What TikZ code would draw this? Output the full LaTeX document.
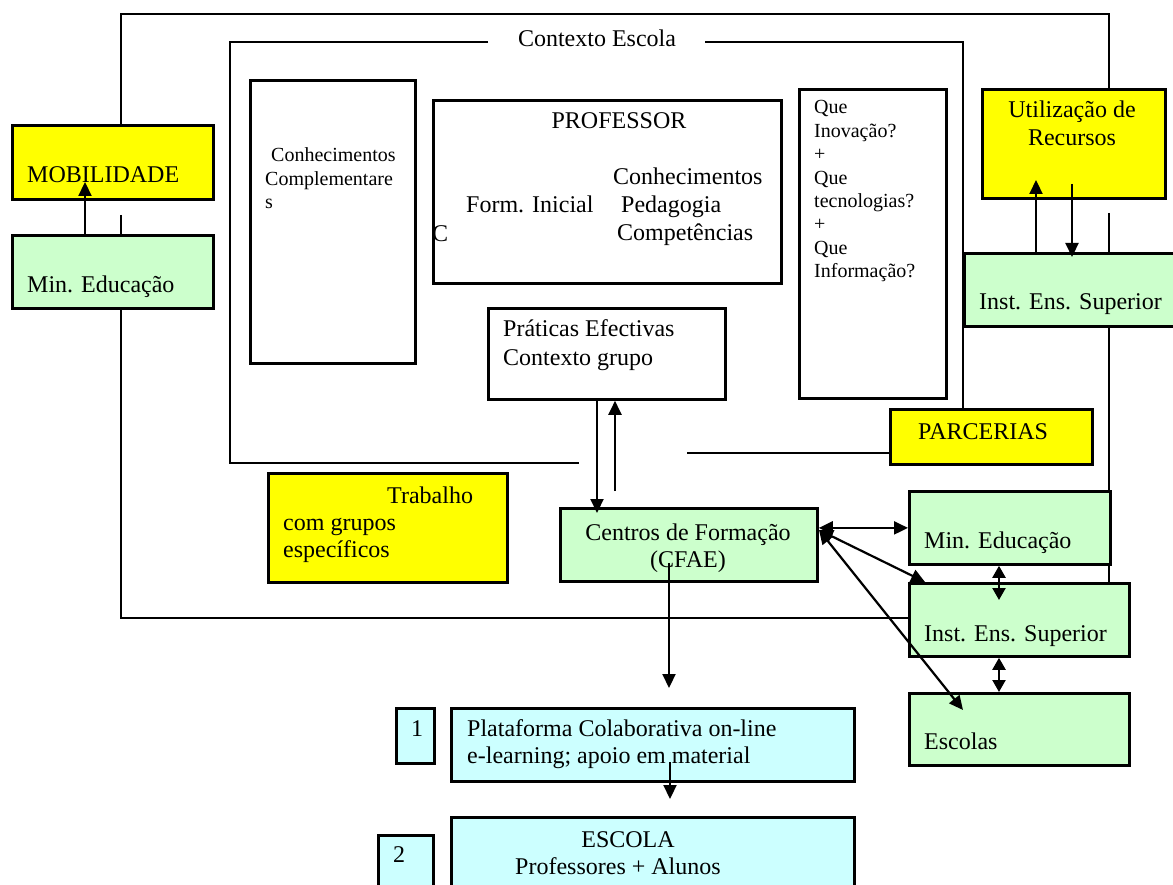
\documentclass[tikz,border=0pt]{standalone}
\usepackage{fontspec}
\setmainfont{Liberation Serif}
\usetikzlibrary{arrows.meta}
\definecolor{yel}{HTML}{FFFF00}
\definecolor{grn}{HTML}{CCFFCC}
\definecolor{cyn}{HTML}{CCFFFF}
\begin{document}
\begin{tikzpicture}[x=1pt,y=-1pt,
  box/.style={draw, line width=2.8pt, inner sep=0pt, anchor=north west},
  big/.style={font=\fontsize{24}{27}\selectfont, inner sep=0pt},
  sm/.style={font=\fontsize{20}{23}\selectfont, inner sep=0pt},
  frame/.style={line width=2.7pt},
  thin/.style={line width=2pt},
  arr/.style={line width=2.2pt, -{Triangle[length=14pt,width=13pt]}},
  dbl/.style={line width=2.2pt, {Triangle[length=14pt,width=13pt]}-{Triangle[length=14pt,width=13pt]}},
  sdbl/.style={line width=2.2pt, {Triangle[length=12pt,width=13pt]}-{Triangle[length=12pt,width=13pt]}}]
\useasboundingbox (0,0) rectangle (1173,885);
\clip (0,0) rectangle (1173,885);
\fill[white] (0,0) rectangle (1173,885);

% frames
\draw[frame] (121,124) -- (121,14) -- (1109,14) -- (1109,88);
\draw[frame] (121,215) -- (121,234);
\draw[frame] (121,307) -- (121,618) -- (908,618);
\draw[thin] (1109,213) -- (1109,252);
\draw[thin] (1109,325) -- (1109,582);
\draw[frame] (488,42) -- (230,42) -- (230,463) -- (579,463);
\draw[frame] (705,42) -- (963,42) -- (963,408);
\draw[thin] (687,453) -- (889,453);
\node[big, anchor=base] (ctx) at (597,47) {Contexto Escola};

% boxes
\node[box, fill=yel, minimum width=201pt, minimum height=74pt] (mob) at (11,124) {};
\node[box, fill=grn, minimum width=201pt, minimum height=73pt] (minL) at (11,234) {};
\node[box, fill=white, minimum width=165pt, minimum height=283pt] (conh) at (249,79) {};
\node[box, fill=white, minimum width=348pt, minimum height=183pt] (prof) at (432,99) {};
\node[box, fill=white, minimum width=147pt, minimum height=309pt] (que) at (798,88) {};
\node[box, fill=yel, minimum width=183pt, minimum height=109pt] (util) at (981,88) {};
\node[box, fill=grn, minimum width=230pt, minimum height=73pt] (instT) at (963,252) {};
\node[box, fill=white, minimum width=237pt, minimum height=91pt] (prat) at (487,307) {};
\node[box, fill=yel, minimum width=202pt, minimum height=55pt] (parc) at (889,408) {};
\node[box, fill=yel, minimum width=239pt, minimum height=109pt] (trab) at (267,472) {};
\node[box, fill=grn, minimum width=257pt, minimum height=73pt] (cent) at (559,507) {};
\node[box, fill=grn, minimum width=201pt, minimum height=73pt] (minR) at (908,490) {};
\node[box, fill=grn, minimum width=220pt, minimum height=73pt] (instB) at (908,582) {};
\node[box, fill=grn, minimum width=220pt, minimum height=72pt] (esc) at (908,692) {};
\node[box, fill=cyn, minimum width=403pt, minimum height=73pt] (plat) at (450,707) {};
\node[box, fill=cyn, minimum width=38pt, minimum height=55pt] (one) at (395,707) {};
\node[box, fill=cyn, minimum width=403pt, minimum height=90pt] (escola) at (450,816) {};
\node[box, fill=cyn, minimum width=55pt, minimum height=70pt] (two) at (377,834) {};

% texts
\node[big, anchor=base west] (mobT) at (27,183) {MOBILIDADE};
\node[big, anchor=base west] (minLT) at (27,293) {Min. Educação};
\node[sm, anchor=base west] (conhT1) at (271,162) {Conhecimentos};
\node[sm, anchor=base west] (conhT2) at (265,186) {Complementare};
\node[sm, anchor=base west] (conhT3) at (265,209) {s};
\node[big, anchor=base] (profT) at (619,129) {PROFESSOR};
\node[big, anchor=base west] (formT) at (466,213) {Form. Inicial};
\node[big, anchor=base west] (pcT1) at (613,185) {Conhecimentos};
\node[big, anchor=base west] (pcT2) at (621,213) {Pedagogia};
\node[big, anchor=base west] (pcT3) at (617,241) {Competências};
\node[big, anchor=base west] (cT) at (432,242) {C};
\node[sm, anchor=base west] (q1) at (814,114) {Que};
\node[sm, anchor=base west] (q2) at (814,137.4) {Inovação?};
\node[sm, anchor=base west] (q3) at (814,160.8) {+};
\node[sm, anchor=base west] (q4) at (814,184.2) {Que};
\node[sm, anchor=base west] (q5) at (814,207.6) {tecnologias?};
\node[sm, anchor=base west] (q6) at (814,231) {+};
\node[sm, anchor=base west] (q7) at (814,254.4) {Que};
\node[sm, anchor=base west] (q8) at (814,277.8) {Informação?};
\node[big, anchor=base] (utilT1) at (1072,118) {Utilização de};
\node[big, anchor=base] (utilT2) at (1072,146) {Recursos};
\node[big, anchor=base west] (instTT) at (979,310) {Inst. Ens. Superior};
\node[big, anchor=base west] (pratT1) at (503,337) {Práticas Efectivas};
\node[big, anchor=base west] (pratT2) at (503,366) {Contexto grupo};
\node[big, anchor=base west] (parcT) at (918,439) {PARCERIAS};
\node[big, anchor=base west] (trabT1) at (387,503) {Trabalho};
\node[big, anchor=base west] (trabT2) at (283,530) {com grupos};
\node[big, anchor=base west] (trabT3) at (283,557) {específicos};
\node[big, anchor=base] (centT1) at (688,540) {Centros de Formação};
\node[big, anchor=base] (centT2) at (688,567) {(CFAE)};
\node[big, anchor=base west] (minRT) at (924,548) {Min. Educação};
\node[big, anchor=base west] (instBT) at (924,641) {Inst. Ens. Superior};
\node[big, anchor=base west] (escT) at (924,749) {Escolas};
\node[big, anchor=base west] (platT1) at (467,736) {Plataforma Colaborativa on-line};
\node[big, anchor=base west] (platT2) at (467,763) {e-learning; apoio em material};
\node[big, anchor=base] (oneT) at (417,736) {1};
\node[big, anchor=base] (escolaT1) at (628,847) {ESCOLA};
\node[big, anchor=base] (escolaT2) at (618,874) {Professores + Alunos};
\node[big, anchor=base] (twoT) at (399,862) {2};

% arrows
\coordinate (mobTip) at (85,182);
\draw[arr] (minL.north -| mobTip) -- (mobTip);
\coordinate (uTip) at (1036,180);
\draw[arr] (instT.north -| uTip) -- (uTip);
\coordinate (uSrc) at (1072,184);
\draw[arr] (uSrc) -- ([yshift=-5pt]instT.north -| uSrc);
\coordinate (pd) at (597,0);
\draw[arr] (prat.south -| pd) -- ([yshift=-6pt]cent.north -| pd);
\coordinate (pu) at (615,491);
\draw[arr] (pu) -- (prat.south -| pu);
\coordinate (hub) at (819,530);
\draw[dbl] (cent.east |- minR.west) -- (minR.west);
\coordinate (ibTip) at (925,582);
\draw[dbl] (hub) -- (ibTip);
\coordinate (esTip) at (963,710);
\draw[dbl] (hub) -- (esTip);
\coordinate (vx) at (999,0);
\coordinate (vTip) at (999,600);
\draw[sdbl] (minR.south -| vx) -- (vTip);
\draw[sdbl] (instB.south -| vx) -- (esc.north -| vx);
\coordinate (cSrc) at (669,563);
\coordinate (cTip) at (669,688);
\draw[arr] (cSrc) -- (cTip);
\coordinate (pSrc) at (670,762);
\coordinate (pTip) at (670,799);
\draw[arr] (pSrc) -- (pTip);
\end{tikzpicture}
\end{document}
